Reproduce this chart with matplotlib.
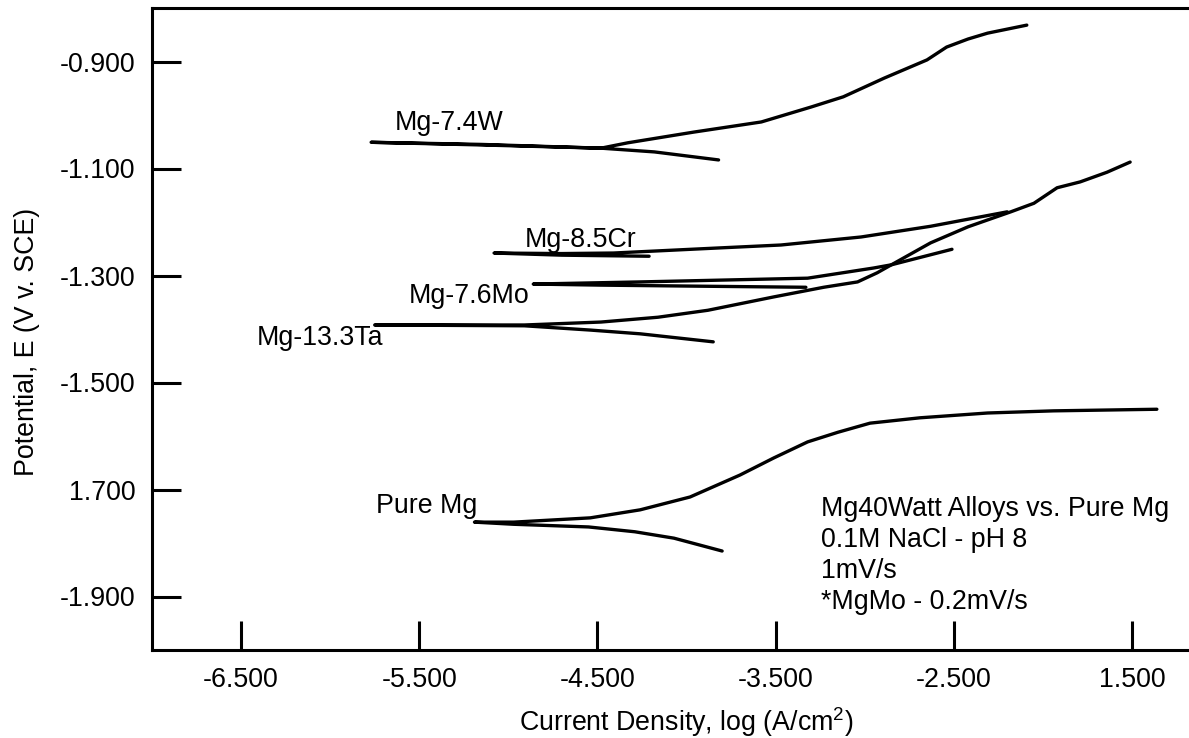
import matplotlib.pyplot as plt

plt.rcParams['font.family'] = ['Liberation Sans', 'DejaVu Sans']
plt.rcParams['mathtext.fontset'] = 'custom'
plt.rcParams['mathtext.rm'] = 'Liberation Sans'
plt.rcParams['mathtext.it'] = 'Liberation Sans'

# polarization curves
# each series: cathodic end -> Ecorr tip -> anodic end
w_logi = [-3.82, -4.18, -4.48, -5.15, -5.77, -5.15, -4.48, -4.33, -3.96, -3.58,
          -3.30, -3.12, -2.89, -2.65, -2.54, -2.42, -2.31, -2.09]
w_E = [-1.084, -1.069, -1.062, -1.055, -1.051, -1.056, -1.062, -1.052, -1.032, -1.013,
       -0.985, -0.966, -0.931, -0.897, -0.873, -0.858, -0.847, -0.832]

cr_logi = [-4.21, -4.70, -5.08, -4.70, -4.41, -3.85, -3.47, -3.02, -2.63, -2.20]
cr_E = [-1.264, -1.262, -1.258, -1.259, -1.258, -1.249, -1.243, -1.228, -1.208, -1.181]

mo_logi = [-3.33, -3.92, -4.48, -4.86, -4.26, -3.32, -2.95, -2.85, -2.51]
mo_E = [-1.322, -1.320, -1.318, -1.316, -1.312, -1.305, -1.286, -1.280, -1.251]

ta_logi = [-3.85, -4.26, -4.54, -4.91, -5.75, -4.91, -4.48, -4.16, -3.88, -3.51, -3.23,
           -3.04, -2.93, -2.85, -2.63, -2.42, -2.18, -2.05, -1.92, -1.79, -1.64, -1.51]
ta_E = [-1.424, -1.409, -1.402, -1.394, -1.3925, -1.3925, -1.387, -1.378, -1.365, -1.340, -1.322,
        -1.312, -1.295, -1.280, -1.239, -1.209, -1.181, -1.165, -1.136, -1.125, -1.107, -1.088]

mg_logi = [-3.80, -4.07, -4.29, -4.55, -4.97, -5.19, -4.97, -4.54, -4.26, -3.98, -3.70,
           -3.51, -3.32, -3.15, -2.97, -2.69, -2.31, -1.94, -1.36]
mg_E = [-1.815, -1.791, -1.779, -1.770, -1.765, -1.761, -1.761, -1.753, -1.738, -1.714, -1.673,
        -1.641, -1.611, -1.593, -1.576, -1.566, -1.557, -1.553, -1.550]

# tick labels as printed (typos kept)
xticks = [-6.5, -5.5, -4.5, -3.5, -2.5, -1.5]
xtick_labels = ['-6.500', '-5.500', '-4.500', '-3.500', '-2.500', '1.500']
yticks = [-0.9, -1.1, -1.3, -1.5, -1.7, -1.9]
ytick_labels = ['-0.900', '-1.100', '-1.300', '-1.500', '1.700', '-1.900']

notes = ['Mg40Watt Alloys vs. Pure Mg', '0.1M NaCl - pH 8', '1mV/s', '*MgMo - 0.2mV/s']

fs = 19.3

fig = plt.figure(figsize=(11.89, 7.38), dpi=100)
ax = fig.add_axes([152 / 1189, 88 / 738, 1069 / 1189, 642 / 738])

for x, y in [(w_logi, w_E), (cr_logi, cr_E), (mo_logi, mo_E), (ta_logi, ta_E), (mg_logi, mg_E)]:
    ax.plot(x, y, color='black', linewidth=2.4, solid_capstyle='round')

# curve labels
ax.text(-5.64, -1.028, 'Mg-7.4W', fontsize=fs)
ax.text(-4.91, -1.247, 'Mg-8.5Cr', fontsize=fs)
ax.text(-5.56, -1.351, 'Mg-7.6Mo', fontsize=fs)
ax.text(-6.41, -1.430, 'Mg-13.3Ta', fontsize=fs)
ax.text(-5.74, -1.744, 'Pure Mg', fontsize=fs)

for i, line in enumerate(notes):
    ax.text(-3.246, -1.750 - i * 0.058, line, fontsize=fs)

ax.set_xlim(-7, -1)
ax.set_ylim(-2.0, -0.8)
ax.set_xticks(xticks)
ax.set_xticklabels(xtick_labels)
ax.set_yticks(yticks)
ax.set_yticklabels(ytick_labels)
ax.tick_params(direction='in', length=21, width=2.2, pad=12, labelsize=fs)

for s in ['left', 'bottom', 'top']:
    ax.spines[s].set_linewidth(2.2)
ax.spines['right'].set_visible(False)

ax.set_xlabel('Current Density, log (A/cm$^2$)', fontsize=fs)
ax.set_ylabel('Potential, E (V v. SCE)', fontsize=fs)
ax.xaxis.set_label_coords(0.5, -0.086)
ax.yaxis.set_label_coords(-0.105, 0.48)

fig.savefig('out.png', dpi=100)
